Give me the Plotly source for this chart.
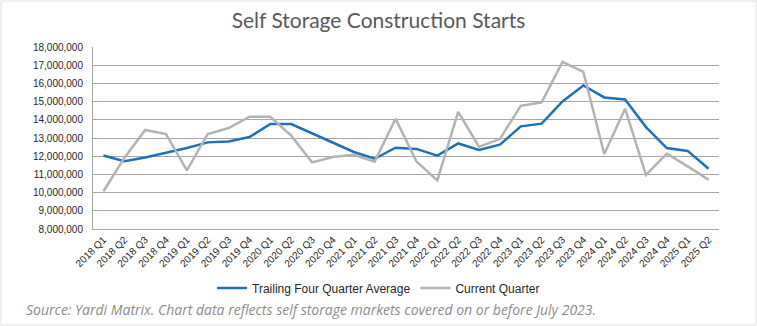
import plotly.graph_objects as go

quarters = [f"{y} Q{q}" for y in range(2018, 2026) for q in range(1, 5)][:30]

trailing_avg = [12.04, 11.72, 11.93, 12.17, 12.45, 12.76, 12.81, 13.05, 13.77, 13.77,
                13.27, 12.76, 12.23, 11.86, 12.47, 12.40, 12.03, 12.70, 12.34, 12.63,
                13.64, 13.79, 15.01, 15.89, 15.23, 15.12, 13.60, 12.45, 12.29, 11.31]
current_qtr = [10.07, 11.90, 13.44, 13.22, 11.22, 13.22, 13.55, 14.17, 14.17, 13.13,
               11.66, 11.96, 12.08, 11.70, 14.06, 11.72, 10.67, 14.43, 12.52, 12.94,
               14.77, 14.96, 17.18, 16.63, 12.12, 14.61, 10.97, 12.14, 11.44, 10.71]
trailing_avg = [v * 1e6 for v in trailing_avg]
current_qtr = [v * 1e6 for v in current_qtr]

y_ticks = list(range(8_000_000, 18_000_001, 1_000_000))

W, H = 757, 326
ML, MR, MT, MB = 93, 38, 47, 97
pw = W - ML - MR
ph = H - MT - MB

def px_x(x):
    return (x - ML) / pw

def px_y(y):
    return (H - MB - y) / ph

tick_font = dict(family="Liberation Sans Narrow, Liberation Sans, sans-serif",
                 size=10, color="#262626")

fig = go.Figure()
fig.add_trace(go.Scatter(x=quarters, y=trailing_avg, mode="lines",
                         name="Trailing Four Quarter Average",
                         line=dict(color="#1f6fbf", width=2.5)))
fig.add_trace(go.Scatter(x=quarters, y=current_qtr, mode="lines",
                         name="Current Quarter",
                         line=dict(color="#b3b3b3", width=2.5)))

fig.update_layout(
    width=W, height=H,
    margin=dict(l=ML, r=MR, t=MT, b=MB, autoexpand=False),
    paper_bgcolor="white", plot_bgcolor="white",
    title=dict(text="Self Storage Construction Starts", x=0.5, xref="container",
               xanchor="center", y=(H - 21) / H, yanchor="middle",
               font=dict(family="Lato, Open Sans, sans-serif", size=21, color="#595959")),
    showlegend=True,
    legend=dict(orientation="h", x=0.5, xanchor="center", xref="container",
                y=(H - 288) / H, yref="container", yanchor="middle",
                font=dict(family="Liberation Sans Narrow, Liberation Sans, sans-serif",
                          size=12, color="#262626"),
                itemwidth=30, tracegroupgap=0),
    xaxis=dict(type="category", tickangle=-45, showgrid=False, showline=True,
               linecolor="#a6a6a6", linewidth=1, ticks="",
               tickfont=tick_font, range=[-0.5, 29.5]),
    yaxis=dict(range=[8_000_000, 18_000_000], tickvals=y_ticks,
               tickformat=",d", showgrid=True, gridcolor="#a6a6a6", gridwidth=1,
               showline=True, linecolor="#a6a6a6", linewidth=1, zeroline=False,
               ticks="", ticklabelstandoff=7, tickfont=tick_font),
    annotations=[dict(text="Source: Yardi Matrix. Chart data reflects self storage markets covered on or before July 2023.",
                      x=px_x(24), xref="paper", xanchor="left",
                      y=px_y(309), yref="paper", yanchor="middle",
                      showarrow=False,
                      font=dict(family="Open Sans, Lato, sans-serif", size=14,
                                color="#8c8c8c", style="italic"))],
)
fig.add_shape(type="rect", xref="paper", yref="paper",
              x0=px_x(1), x1=px_x(756), y0=px_y(325), y1=px_y(1),
              line=dict(color="#e0e0e0", width=1), layer="below")

fig.write_html("out.html")
